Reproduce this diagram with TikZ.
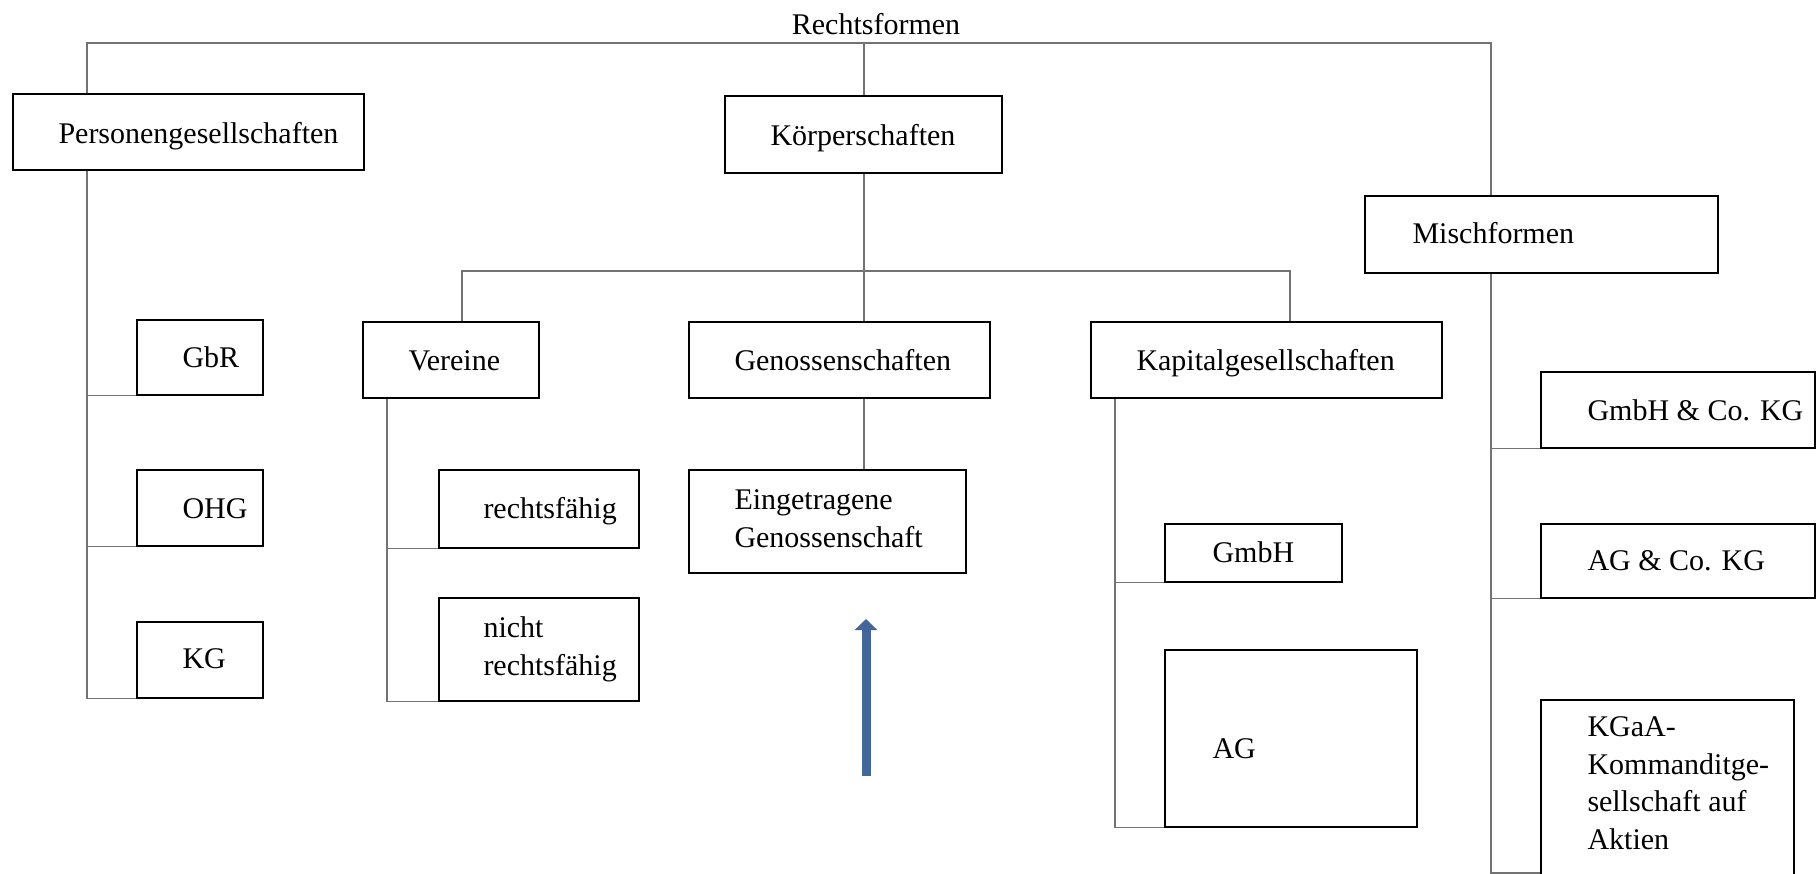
\documentclass[tikz,border=0pt]{standalone}
\usepackage{fontspec}
\setmainfont{Liberation Serif}
\usepackage{tikz}
\definecolor{arrowblue}{rgb}{0.26,0.4,0.6}
\definecolor{linegray}{rgb}{0.45,0.45,0.45}
\usetikzlibrary{arrows.meta}
\tikzset{
  box/.style 2 args={draw, line width=0.6pt, anchor=north west, inner sep=0pt,
    minimum width=#1*0.4pt, minimum height=#2*0.4pt},
  lbl/.style={anchor=base west, align=left, inner sep=0pt},
  conn/.style={draw=linegray, line width=0.45pt}
}

\begin{document}
\begin{tikzpicture}[x=0.4pt, y=-0.4pt, font=\fontsize{12}{15}\selectfont]
    \useasboundingbox (0,0) rectangle (1816,874);

    \node[inner sep=0pt] (recht) at (876,24) {Rechtsformen};

    % first level
    \node[box={351}{76}] (pers) at (12,93) {};
    \node[box={277}{77}] (koerp) at (724,95) {};
    \node[box={353}{77}] (misch) at (1364,195) {};
    \node[lbl] (perst) at (58,143) {Personengesellschaften};
    \node[lbl] (koerpt) at (770,145) {Körperschaften};
    \node[lbl] (mischt) at (1412,243) {Mischformen};

    % Personengesellschaften
    \node[box={126}{75}] (gbr) at (136,319) {};
    \node[box={126}{76}] (ohg) at (136,469) {};
    \node[box={126}{76}] (kg) at (136,621) {};
    \node[lbl] (gbrt) at (182,367) {GbR};
    \node[lbl] (ohgt) at (182,518) {OHG};
    \node[lbl] (kgt) at (182,668) {KG};

    % Koerperschaften
    \node[box={176}{76}] (vereine) at (362,321) {};
    \node[box={200}{78}] (rf) at (438,469) {};
    \node[box={200}{103}] (nrf) at (438,597) {};
    \node[box={301}{76}] (genos) at (688,321) {};
    \node[box={277}{103}] (eg) at (688,469) {};
    \node[box={351}{76}] (kapital) at (1090,321) {};
    \node[box={177}{58}] (gmbh) at (1164,523) {};
    \node[box={252}{177}] (ag) at (1164,649) {};
    \node[lbl] (vereinet) at (408,370) {Vereine};
    \node[lbl] (rft) at (483,518) {rechtsfähig};
    \node[lbl] (nrft) at (483,675) {nicht\\rechtsfähig};
    \node[lbl] (genost) at (734,370) {Genossenschaften};
    \node[lbl] (egt) at (734,547) {Eingetragene\\Genossenschaft};
    \node[lbl] (kapitalt) at (1136,370) {Kapitalgesellschaften};
    \node[lbl] (gmbht) at (1212,562) {GmbH};
    \node[lbl] (agt) at (1212,758) {AG};

    % Mischformen
    \node[box={274}{76}] (gmbhkg) at (1540,371) {};
    \node[box={274}{74}] (agkg) at (1540,523) {};
    \node[box={253}{190}] (kgaa) at (1540,699) {};
    \node[lbl] (gmbhkgt) at (1587,420) {GmbH \& Co. KG};
    \node[lbl] (agkgt) at (1587,570) {AG \& Co. KG};
    \node[lbl] (kgaat) at (1587,849) {KGaA-\\Kommanditge-\\sellschaft auf\\Aktien};

    \coordinate (top) at (864,43);
    \coordinate (pbus) at (87,0);
    \coordinate (vbus) at (387,0);
    \coordinate (cbus) at (1115,0);
    \coordinate (mbus) at (1491,0);
    \coordinate (mend) at (1491,873);
    \coordinate (branch) at (864,271);
    \coordinate (bl) at (462,271);
    \coordinate (br) at (1290,271);

    \draw[conn] (pers.north -| pbus) |- (top) -| (misch.north -| mbus);
    \draw[conn] (top) -- (koerp.north -| top);

    \draw[conn] (pers.south -| pbus) |- (kg.south west);
    \draw[conn] (pbus |- gbr.south) -- (gbr.south west);
    \draw[conn] (pbus |- ohg.south) -- (ohg.south west);

    \draw[conn] (koerp.south -| branch) -- (branch);
    \draw[conn] (vereine.north -| bl) |- (br) -- (kapital.north -| br);
    \draw[conn] (branch) -- (genos.north -| branch);
    \draw[conn] (genos.south -| branch) -- (eg.north -| branch);

    \draw[conn] (vereine.south -| vbus) |- (nrf.south west);
    \draw[conn] (vbus |- rf.south) -- (rf.south west);

    \draw[conn] (kapital.south -| cbus) |- (ag.south west);
    \draw[conn] (cbus |- gmbh.south) -- (gmbh.south west);

    \draw[conn] (misch.south -| mbus) |- (kgaa.west |- mend);
    \draw[conn] (mbus |- gmbhkg.south) -- (gmbhkg.south west);
    \draw[conn] (mbus |- agkg.south) -- (agkg.south west);

    \coordinate (pfeila) at (866,776);
    \coordinate (pfeilb) at (866,619);
    \draw[arrowblue, line width=3.6pt, -{Triangle[width=8.8pt, length=4.4pt]}] (pfeila) -- (pfeilb);
\end{tikzpicture}
\end{document}
